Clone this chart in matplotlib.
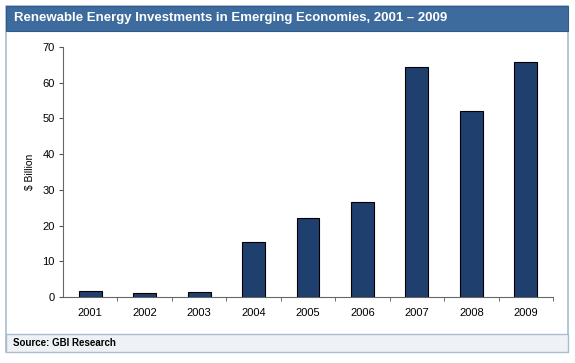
import matplotlib
matplotlib.use("Agg")
import matplotlib.pyplot as plt
from matplotlib.patches import Rectangle
import numpy as np

plt.rcParams['font.family'] = ['Liberation Sans', 'DejaVu Sans']

years = ['2001', '2002', '2003', '2004', '2005', '2006', '2007', '2008', '2009']
investment = [1.6, 1.0, 1.5, 15.4, 22.0, 26.5, 64.4, 52.0, 65.7]

title = 'Renewable Energy Investments in Emerging Economies, 2001 \u2013 2009'
source = 'Source: GBI Research'

W, H = 575, 363
fig = plt.figure(figsize=(W / 100, H / 100), dpi=100)

def fx(px):
    return px / W

def fy(py):
    return 1 - py / H

# outer frame, title bar and source bar
fig.patches.append(Rectangle((fx(6), fy(352)), fx(562), (352 - 6) / H, transform=fig.transFigure,
                             facecolor='white', edgecolor='#a9bcd0', lw=1.2, zorder=-2))
fig.patches.append(Rectangle((fx(6), fy(31)), fx(562), 25 / H, transform=fig.transFigure,
                             facecolor='#3e6b9d', edgecolor='#2f5a8a', lw=0.8, zorder=-1))
fig.patches.append(Rectangle((fx(6), fy(352)), fx(562), 18 / H, transform=fig.transFigure,
                             facecolor='#eef2f6', edgecolor='#a9bcd0', lw=1.0, zorder=-1))
fig.text(fx(14), fy(18.5), title, color='white', fontsize=9.5, fontweight='bold', va='center', ha='left')
fig.text(fx(13), fy(343), source, color='black', fontsize=7, fontweight='bold', va='center', ha='left')

ax = fig.add_axes([fx(63), fy(297), fx(553 - 63), (297 - 47) / H], zorder=5)
x = np.arange(len(years))
ax.bar(x, investment, width=0.42, color='#1f3f6e', edgecolor='black', linewidth=0.8, zorder=3)

ax.set_xlim(-0.5, len(years) - 0.5)
ax.set_ylim(0, 70)
ax.set_yticks(range(0, 71, 10))
ax.set_xticks(x)
ax.set_xticklabels(years)
ax.set_xticks(np.arange(-0.5, len(years), 1.0)[1:], minor=True)
ax.tick_params(axis='x', which='major', length=0, pad=8, labelsize=8)
ax.tick_params(axis='x', which='minor', length=3, color='#555555', direction='out')
ax.tick_params(axis='y', length=3, color='#555555', labelsize=8, pad=3)
for s in ['top', 'right']:
    ax.spines[s].set_visible(False)
for s in ['left', 'bottom']:
    ax.spines[s].set_color('#666666')
    ax.spines[s].set_linewidth(0.8)
ax.set_ylabel('$ Billion', fontsize=7.5, labelpad=5)
ax.patch.set_alpha(0)

fig.savefig('out.png', dpi=100)
